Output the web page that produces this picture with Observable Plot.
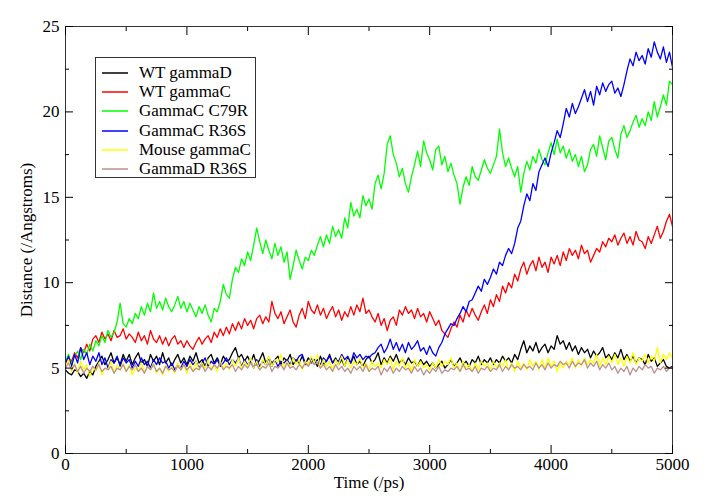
<!DOCTYPE html>
<html><head><meta charset="utf-8">
<script src="https://cdn.jsdelivr.net/npm/d3@7"></script>
<script src="https://cdn.jsdelivr.net/npm/@observablehq/plot@0.6"></script>
<style>
body{margin:0;background:#fff;}
#wrap{position:relative;width:725px;height:500px;}
#legend{position:absolute;left:95px;top:57px;width:161px;height:121px;border:1px solid #333;background:#fff;font-family:"Liberation Serif",serif;font-size:17px;color:#000;box-sizing:border-box;padding-top:5px;}
#legend .row{height:19.2px;line-height:19.2px;position:relative;white-space:nowrap;}
#legend svg{position:absolute;left:6px;top:0;}
#legend .lab{position:absolute;left:43px;top:0;}
</style></head>
<body><div id="wrap"><div id="chart"></div><div id="legend"></div></div>
<script>
const seriesNames = ["WT gammaD","WT gammaC","GammaC C79R","GammaC R36S","Mouse gammaC","GammaD R36S"];
const seriesColors = ["#000000","#ff0000","#00ff00","#0000ff","#ffff00","#bc8f8f"];
const times = [0,25,50,75,100,125,150,175,200,225,250,275,300,325,350,375,400,425,450,475,
500,525,550,575,600,625,650,675,700,725,750,775,800,825,850,875,900,925,950,975,
1000,1025,1050,1075,1100,1125,1150,1175,1200,1225,1250,1275,1300,1325,1350,1375,1400,1425,1450,1475,
1500,1525,1550,1575,1600,1625,1650,1675,1700,1725,1750,1775,1800,1825,1850,1875,1900,1925,1950,1975,
2000,2025,2050,2075,2100,2125,2150,2175,2200,2225,2250,2275,2300,2325,2350,2375,2400,2425,2450,2475,
2500,2525,2550,2575,2600,2625,2650,2675,2700,2725,2750,2775,2800,2825,2850,2875,2900,2925,2950,2975,
3000,3025,3050,3075,3100,3125,3150,3175,3200,3225,3250,3275,3300,3325,3350,3375,3400,3425,3450,3475,
3500,3525,3550,3575,3600,3625,3650,3675,3700,3725,3750,3775,3800,3825,3850,3875,3900,3925,3950,3975,
4000,4025,4050,4075,4100,4125,4150,4175,4200,4225,4250,4275,4300,4325,4350,4375,4400,4425,4450,4475,
4500,4525,4550,4575,4600,4625,4650,4675,4700,4725,4750,4775,4800,4825,4850,4875,4900,4925,4950,4975,5000];
const wtGammaD = [4.9,4.7,4.6,4.9,4.8,4.5,4.7,4.4,4.8,4.6,5.1,5.4,5.7,5.2,5.5,5.9,5.3,5.6,5.2,5.8,
5.4,5.8,5.2,5.6,5.9,5.3,5.5,5.1,5.8,5.4,5.7,5.2,5.9,5.3,5.6,5.1,5.5,5.8,5.3,5.6,
5.2,5.7,5.4,5.9,5.3,5.5,5.1,5.6,5.8,5.3,5.6,5.2,5.7,5.4,5.5,5.9,6.2,5.6,5.8,5.4,
5.7,5.3,5.8,5.2,5.5,5.9,5.3,5.6,5.1,5.5,5.7,5.2,5.6,5.4,5.8,5.2,5.5,5.3,5.7,5.2,
5.6,5.3,5.5,5.1,5.7,5.2,5.4,5.8,5.3,5.6,5.2,5.5,5.1,5.6,5.3,5.7,5.2,5.4,5.1,5.5,
5.7,5.3,5.5,5.9,5.2,5.6,5.3,5.7,5.4,5.8,5.3,5.5,5.2,5.6,5.3,5.4,5.1,5.5,5.2,5.4,
5.1,5.3,5.0,5.2,5.4,5.0,5.2,5.5,5.1,5.3,5.6,5.2,5.4,5.1,5.5,5.3,5.7,5.2,5.5,5.3,
5.6,5.2,5.5,5.3,5.7,5.4,5.6,5.3,5.8,5.5,6.1,6.6,5.9,6.3,6.0,6.5,5.9,6.2,6.4,5.9,
6.3,6.1,6.9,6.4,6.6,6.1,6.5,6.0,6.3,5.8,6.2,5.9,6.1,5.6,6.0,5.7,5.9,6.2,5.6,5.8,
5.5,5.9,5.6,6.1,5.5,5.8,5.4,5.7,5.3,5.6,5.5,5.2,5.8,5.4,5.6,5.1,5.3,5.5,5.1,5.0,5.1];
const wtGammaC = [5.3,5.6,5.4,5.9,5.6,6.2,5.9,6.4,6.0,6.7,6.9,6.5,7.1,6.7,7.0,6.6,7.2,6.8,6.9,7.3,
6.7,7.0,6.8,6.5,7.1,6.6,6.9,6.4,7.2,6.7,6.5,6.9,6.4,6.8,6.3,6.7,6.9,6.4,6.6,6.2,
6.6,6.3,6.1,6.5,6.8,6.4,6.7,6.9,6.5,7.1,6.8,7.3,6.9,7.4,7.0,7.6,7.2,7.7,7.3,7.9,
7.5,7.8,7.3,7.9,8.1,7.6,8.0,7.7,8.9,8.2,7.9,8.3,7.6,8.0,8.4,7.7,7.4,8.1,8.5,7.9,
8.9,8.4,8.2,8.7,8.1,8.5,7.9,8.3,8.6,8.0,8.4,7.8,8.3,8.0,8.6,8.1,8.7,8.3,9.1,8.2,
8.4,8.0,7.7,8.2,7.5,7.9,7.2,7.8,8.0,7.5,8.4,8.1,8.6,8.2,8.4,7.9,8.5,8.0,8.2,7.7,
8.3,7.9,7.5,7.8,7.2,7.0,6.8,7.3,7.7,7.4,8.1,7.7,8.4,8.0,8.5,8.1,7.8,8.3,8.7,8.2,
9.0,8.6,9.3,8.9,9.8,9.4,10.0,9.7,10.5,10.1,10.8,11.2,10.5,11.0,11.3,10.7,11.5,10.9,11.2,10.6,
11.5,11.1,11.6,11.0,11.8,11.3,12.0,11.6,11.9,11.4,12.2,11.7,11.9,11.2,11.6,12.0,11.8,12.4,12.1,12.6,
12.4,12.8,12.2,12.6,12.9,12.3,12.7,12.2,13.0,12.5,12.4,12.0,12.7,12.3,12.8,13.3,12.6,13.0,13.6,14.0,13.3];
const gammaCC79R = [5.4,5.8,5.2,5.7,6.0,5.5,6.1,5.8,6.4,6.0,6.6,6.3,6.9,6.5,7.2,6.8,7.1,7.7,8.8,7.6,
7.4,7.9,7.6,8.2,7.9,8.6,8.1,8.8,8.3,9.4,8.5,8.9,8.4,9.1,8.6,8.3,8.7,9.2,8.5,8.9,
8.3,8.8,8.4,8.0,8.6,8.2,8.7,8.1,7.7,8.5,8.3,8.9,9.9,9.3,9.1,10.2,10.9,10.6,11.4,11.0,
11.8,11.3,12.2,13.2,12.4,11.7,12.5,11.9,11.4,12.3,11.6,12.1,11.2,11.8,10.2,11.0,11.9,11.3,10.8,11.5,
11.3,11.9,11.6,12.2,12.7,12.1,12.8,12.3,13.3,12.7,13.1,12.6,13.8,13.2,14.7,13.9,14.3,13.8,15.1,14.5,
14.9,14.3,15.8,16.3,15.5,16.4,18.1,18.6,17.5,17.0,16.2,16.7,15.8,15.3,16.2,16.9,17.7,16.8,18.3,17.6,
17.2,16.6,17.8,18.0,16.9,17.4,16.5,17.0,16.3,15.8,14.6,15.6,16.2,15.7,16.8,16.2,16.0,16.6,17.2,16.7,
16.4,16.9,17.4,19.0,17.6,16.8,17.3,16.7,16.2,16.8,15.3,16.4,17.1,16.6,17.4,17.0,17.8,17.2,16.9,17.6,
18.2,17.5,18.4,17.6,18.0,17.3,17.8,17.1,17.5,16.8,17.4,16.5,16.9,17.8,18.1,17.4,18.6,17.9,17.2,18.3,
18.5,17.8,17.3,18.7,19.2,18.5,18.9,19.4,19.8,19.1,19.6,19.2,20.0,19.5,20.6,19.7,20.3,21.0,20.4,21.8,21.6];
const gammaCR36S = [5.3,5.7,5.1,5.8,5.3,6.2,5.5,5.9,5.2,5.7,5.4,5.9,5.2,5.6,5.0,5.5,5.3,5.7,5.1,5.6,
5.3,5.5,5.0,5.4,5.1,5.6,5.2,5.4,5.0,5.5,5.2,5.6,5.3,5.4,5.0,5.3,4.9,5.2,5.0,5.4,
5.1,5.5,5.2,5.4,5.0,5.3,5.6,5.1,5.4,5.2,5.5,5.1,5.3,5.6,5.2,5.5,5.3,5.6,5.1,5.5,
5.2,5.4,5.0,5.5,5.1,5.4,5.2,5.6,5.3,5.5,5.1,5.4,5.3,5.5,5.2,5.6,5.4,5.7,5.8,5.3,
5.2,5.6,5.3,5.5,5.2,5.6,5.4,5.7,5.3,5.5,5.4,5.8,5.5,5.7,5.3,5.9,5.6,5.8,5.5,5.7,
5.6,5.8,5.9,6.2,6.4,5.9,6.2,6.7,6.1,6.5,6.0,6.4,5.9,6.5,6.1,6.3,6.6,6.0,6.2,5.8,
6.3,5.9,5.7,6.2,6.5,7.0,7.3,7.6,7.5,7.9,8.2,8.6,8.3,8.9,9.0,9.4,9.8,9.5,10.2,9.9,
10.3,10.8,10.5,11.2,11.0,11.6,12.0,11.7,12.3,13.2,13.6,14.5,15.2,14.8,15.8,15.4,16.5,16.9,17.3,16.8,
17.6,18.2,18.9,18.5,19.3,20.2,19.7,20.5,19.9,20.3,20.8,21.3,20.6,21.2,20.4,21.5,21.0,21.7,21.2,21.6,
21.8,21.1,21.4,20.9,21.6,22.4,23.1,22.7,23.5,23.0,23.3,22.8,23.7,23.2,24.1,23.5,23.1,23.8,22.9,23.5,22.6];
const mouseGammaC = [5.0,5.5,4.8,5.3,4.7,5.4,4.9,5.2,4.5,5.1,4.8,5.3,4.6,5.0,4.9,5.4,4.7,5.2,4.9,5.3,
4.8,5.2,4.6,5.0,4.8,5.3,4.7,5.1,4.9,5.3,4.7,5.0,4.6,5.2,4.8,5.1,4.7,5.3,4.9,5.2,
4.7,5.3,4.8,5.4,4.9,5.3,5.0,5.5,4.9,5.2,4.8,5.4,5.0,5.3,4.9,5.5,5.1,5.6,5.0,5.4,
5.1,5.6,5.0,5.4,4.9,5.5,5.2,5.7,5.1,5.5,5.3,5.8,5.0,5.4,5.1,5.6,5.2,5.5,4.9,5.4,
5.2,5.7,5.3,5.8,5.0,5.5,5.1,5.4,4.9,5.5,5.2,5.7,5.1,5.5,5.0,5.4,5.2,5.6,5.0,5.3,
4.9,5.4,5.1,5.3,5.0,5.5,5.2,5.6,4.9,5.4,5.1,5.6,5.0,5.3,4.8,5.5,5.1,5.4,5.0,5.2,
4.9,5.3,5.0,5.5,5.1,5.4,5.2,5.6,5.0,5.3,4.8,5.4,5.0,5.2,4.8,5.3,4.9,5.4,5.1,5.3,
4.9,5.4,5.0,5.3,5.1,5.5,4.9,5.3,4.8,5.4,5.0,5.3,4.9,5.5,5.1,5.4,4.9,5.5,5.0,5.6,
5.1,5.4,4.8,5.3,5.0,5.4,5.2,5.6,5.0,5.5,5.1,5.6,5.2,5.5,5.3,5.8,5.1,5.6,5.2,5.7,
5.3,5.8,5.2,5.6,5.1,5.7,5.3,5.9,5.2,5.6,5.4,5.8,5.3,5.7,5.4,6.2,5.3,5.8,5.5,5.9,5.6];
const gammaDR36S = [5.0,5.3,4.9,5.2,4.8,5.1,4.7,5.0,4.8,5.1,4.9,5.2,4.8,5.0,4.9,5.1,4.7,5.0,4.9,5.2,
4.8,5.1,4.9,5.2,4.8,5.0,4.7,5.1,4.9,5.2,4.8,5.0,4.7,5.1,4.9,5.0,4.8,5.1,4.9,5.2,
4.9,5.1,4.8,5.0,4.9,5.2,4.8,5.1,4.9,5.2,5.0,5.3,4.9,5.1,5.0,5.2,4.8,5.1,4.9,5.2,
5.0,5.3,5.1,5.2,4.9,5.1,5.0,5.3,4.8,5.1,5.0,5.2,4.9,5.3,5.0,5.1,4.9,5.2,5.0,5.3,
5.1,5.4,5.2,5.3,5.0,5.2,4.9,5.1,4.8,5.2,4.9,5.1,4.8,5.0,4.7,5.1,4.9,5.1,4.8,5.2,
4.8,5.0,4.9,5.1,4.6,5.0,4.8,5.1,4.7,5.0,4.8,5.1,4.9,5.0,4.7,5.1,4.8,5.0,4.6,4.9,
4.7,5.0,4.8,5.1,4.7,4.9,4.8,5.0,4.9,5.1,4.8,5.2,4.9,5.0,4.8,5.1,4.7,5.0,4.9,5.1,
4.8,5.0,4.9,5.2,4.8,5.1,4.9,5.2,5.0,5.1,4.9,5.2,5.0,5.1,4.9,5.3,5.0,5.2,4.9,5.3,
5.0,5.2,5.1,5.4,5.2,5.3,5.0,5.4,5.1,5.3,5.2,5.5,5.0,5.3,5.1,5.4,4.9,5.2,5.0,5.3,
4.9,5.1,4.7,5.0,4.8,5.1,4.6,5.0,4.8,5.1,4.9,5.2,5.0,5.1,4.7,5.0,4.9,5.1,4.8,5.0,5.0];
const xMajorTicks = [0,1000,2000,3000,4000,5000];
const xMinorTicks = [500,1500,2500,3500,4500];
const yMajorTicks = [0,5,10,15,20,25];
const yMinorTicks = [2.5,7.5,12.5,17.5,22.5];

const seriesValues = [wtGammaD, wtGammaC, gammaCC79R, gammaCR36S, mouseGammaC, gammaDR36S];
const rows = [];
seriesNames.forEach((name, s) => {
  seriesValues[s].forEach((v, i) => rows.push({series: name, t: times[i], d: v}));
});

const font = "Liberation Serif";
const blank = () => "";
const chart = Plot.plot({
  width: 725, height: 500,
  marginLeft: 65, marginRight: 53, marginTop: 26, marginBottom: 47,
  style: {fontFamily: font, fontSize: "17px", color: "#000", background: "#fff"},
  x: {domain: [0, 5000]},
  y: {domain: [0, 25]},
  color: {domain: seriesNames, range: seriesColors},
  marks: [
    Plot.lineY(rows, {x: "t", y: "d", z: "series", stroke: "series", strokeWidth: 1.3}),
    Plot.frame({stroke: "#333", strokeWidth: 1}),
    Plot.axisX(xMajorTicks, {anchor: "bottom", tickSize: -8, tickPadding: 12, tickFormat: d => String(d), fontSize: 17, label: "Time (/ps)", labelAnchor: "center", labelArrow: "none", labelOffset: 34}),
    Plot.axisX(xMinorTicks, {anchor: "bottom", tickSize: -4, tickFormat: blank, label: null}),
    Plot.axisX(xMajorTicks, {anchor: "top", tickSize: -8, tickFormat: blank, label: null}),
    Plot.axisX(xMinorTicks, {anchor: "top", tickSize: -4, tickFormat: blank, label: null}),
    Plot.axisY(yMajorTicks, {anchor: "left", tickSize: -8, tickPadding: 14, tickFormat: d => String(d), fontSize: 17, label: "Distance (/Angstroms)", labelAnchor: "center", labelArrow: "none", labelOffset: 46}),
    Plot.axisY(yMinorTicks, {anchor: "left", tickSize: -4, tickFormat: blank, label: null}),
    Plot.axisY(yMajorTicks, {anchor: "right", tickSize: -8, tickFormat: blank, label: null}),
    Plot.axisY(yMinorTicks, {anchor: "right", tickSize: -4, tickFormat: blank, label: null})
  ]
});
document.getElementById("chart").appendChild(chart);

const legend = document.getElementById("legend");
seriesNames.forEach((name, i) => {
  const row = document.createElement("div");
  row.className = "row";
  row.innerHTML = `<svg width="26" height="19" viewBox="0 0 26 19"><line x1="0" y1="10" x2="26" y2="10" stroke="${seriesColors[i]}" stroke-width="1.5"/></svg><span class="lab">${name}</span>`;
  legend.appendChild(row);
});
</script>
</body></html>
